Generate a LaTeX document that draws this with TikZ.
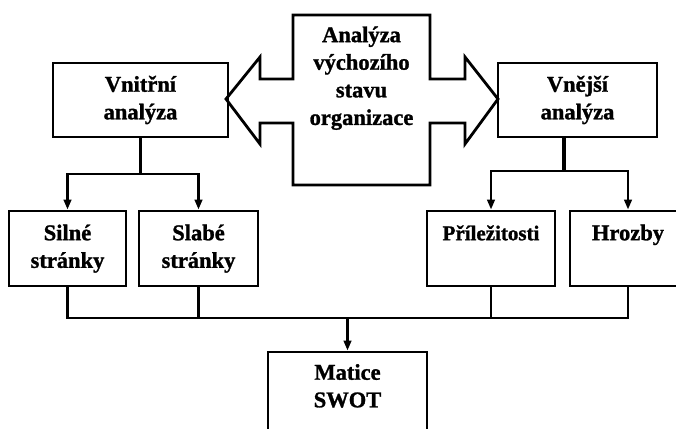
\documentclass[tikz,border=0pt]{standalone}
\usepackage{fontspec}
\setmainfont{Liberation Serif}[BoldFeatures={FakeBold=1.2}]
\usetikzlibrary{arrows.meta}
\begin{document}
\begin{tikzpicture}[x=1pt,y=-1pt,
  every node/.style={inner sep=0pt,font=\bfseries\fontsize{22.5}{27.6}\selectfont,align=center},
  box/.style={draw,line width=2.8pt},
  conn/.style={line width=2.8pt},
  arr/.style={line width=2.8pt,-{Triangle[length=10pt,width=7.5pt]}}]
\useasboundingbox (0,0) rectangle (676,428);
\clip (0,0) rectangle (676,428);
% central double arrow
\draw[line width=2.8pt,line join=miter] (293,15) -- (430,15) -- (430,79) -- (465,79) -- (465,57) -- (498,99)
  -- (465,144) -- (465,123) -- (430,123) -- (430,185) -- (293,185) -- (293,123) -- (260,123)
  -- (260,144) -- (226,99) -- (260,57) -- (260,79) -- (293,79) -- cycle;
\node (center) at (361.5,78) {\strut Analýza\\\strut výchozího\\\strut stavu\\\strut organizace};
% top boxes
\node[box,minimum width=175,minimum height=74] (vn) at (140.5,100) {\strut Vnitřní\\\strut analýza};
\node[box,minimum width=159,minimum height=74] (vj) at (577.5,100) {\strut Vnější\\\strut analýza};
% second row
\node[box,minimum width=117,minimum height=75] (sil) at (67.5,248.5) {\strut Silné\\\strut stránky};
\node[box,minimum width=119,minimum height=75] (sla) at (198.5,248.5) {\strut Slabé\\\strut stránky};
\node[box,minimum width=128,minimum height=75,font=\bfseries\fontsize{21}{27.6}\selectfont] (prl) at (491,248.5) {\strut Příležitosti\\\strut};
\node[box,minimum width=116,minimum height=75] (hro) at (628,248.5) {\strut Hrozby\\\strut};
% matice
\node[box,minimum width=159,minimum height=100] (mat) at (347.5,402) {};
\node (mtxt) at (347.5,388) {\strut Matice\\\strut SWOT};
% left branch
\coordinate (jl) at (140.5,174);
\draw[conn] (vn.south) -- (jl);
\draw[arr] (jl) -| (sil.north);
\draw[arr] (jl) -| (sla.north);
% right branch
\coordinate (jr) at (564,171);
\draw[line width=4.5pt] (jr |- vj.south) -- (jr);
\draw[arr] (jr) -| (prl.north);
\draw[arr] (jr) -| (hro.north);
% bottom collector
\coordinate (jb) at (347.5,318);
\draw[conn,line join=miter] (sil.south) |- (jb);
\draw[conn] (sla.south) |- (jb);
\draw[conn,line join=miter] (hro.south) |- (jb);
\draw[conn] (prl.south) |- (jb);
\draw[arr] (jb) -- (mat.north);
\end{tikzpicture}
\end{document}
